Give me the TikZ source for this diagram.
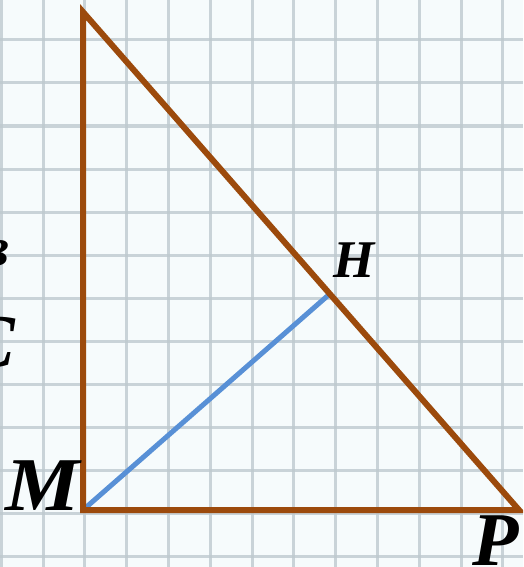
\documentclass[tikz,border=0pt]{standalone}
\usepackage{fontspec}
\setmainfont{Liberation Serif}
\usetikzlibrary{calc}

\definecolor{paper}{RGB}{246,251,252}
\definecolor{gridline}{RGB}{190,201,207}
\definecolor{sidebrown}{RGB}{156,74,12}
\definecolor{heightblue}{RGB}{88,144,214}

\tikzset{
  side/.style={draw=sidebrown, line width=6pt, line join=miter},
  height/.style={draw=heightblue, line width=5pt},
  vertex/.style={inner sep=0pt, font=\fontsize{76}{76}\selectfont\bfseries\itshape},
  smallvertex/.style={inner sep=0pt, font=\fontsize{53}{53}\selectfont\bfseries\itshape}
}

\begin{document}
\begin{tikzpicture}[x=1pt, y=-1pt]
  \useasboundingbox (0,0) rectangle (523,567);
  \clip (0,0) rectangle (523,567);
  % --- squared paper ---
  \fill[paper] (0,0) rectangle (523,567);
  \foreach \k in {0,...,12} {
    \draw[gridline, line width=3pt, opacity=0.8] ({1.2+41.8*\k},0) -- ({1.2+41.8*\k},567);
  }
  \foreach \k in {1,...,13} {
    \draw[gridline, line width=3pt, opacity=0.8] (0,{-3+43*\k}) -- (523,{-3+43*\k});
  }
  % --- cut-off letters at the left edge ---
  \node[smallvertex, anchor=base east] (cutB) at (9,265) {в};
  \node[vertex, anchor=base east] (cutC) at (15,367) {C};
  % --- triangle and its height ---
  \coordinate (A) at (83,12);
  \coordinate (M) at (83,510);
  \coordinate (P) at (519,510);
  \coordinate (H) at ($(A)!(M)!(P)$);
  \draw[height] (M) -- (H);
  \draw[side] (A) -- (M) -- (P) -- cycle;
  % --- labels ---
  \node[vertex, anchor=base west] (labM) at (5,510) {\scalebox{1.1}[1]{M}};
  \node[smallvertex, anchor=base west] (labH) at (333,277) {H};
  \node[vertex, anchor=base west] (labP) at (472,565) {P};
\end{tikzpicture}
\end{document}
